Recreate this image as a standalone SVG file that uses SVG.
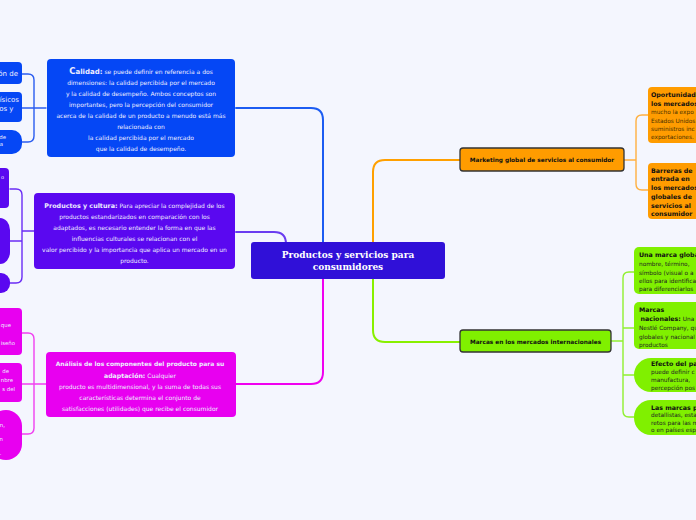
<svg xmlns="http://www.w3.org/2000/svg" width="696" height="520" viewBox="0 0 696 520">
<style>
text{font-family:"DejaVu Sans",Verdana,sans-serif;}
.s{font-size:6px;}
.w{fill:#eeeeff;}
.b{font-weight:bold;}
.c{text-anchor:middle;}
.e{text-anchor:end;}
.conn path{fill:none;stroke-linecap:round;}
.m{stroke-width:2;}
.k{stroke-width:1.4;}
.title{font-family:"DejaVu Serif",Georgia,serif;font-weight:bold;font-size:9px;fill:#fff;text-anchor:middle;}
.lbl{font-weight:bold;font-size:5.8px;fill:#111;text-anchor:middle;}
.rb{font-weight:bold;font-size:6.3px;fill:#111;}
.rs{font-size:5.8px;}
</style>
<rect width="696" height="520" fill="#f4f6fe"/>
<g class="conn" id="connectors">
<path class="m" stroke="#1c5cf2" d="M236,108 H311 Q323,108 323,120 V243"/>
<path class="m" stroke="#6a3cf0" d="M236,232 H274 Q286,232 286,244"/>
<path class="m" stroke="#f000f0" d="M323,279 V372 Q323,384 311,384 H236"/>
<path class="m" stroke="#ffa000" d="M373,242 V172 Q373,160 385,160 H460"/>
<path class="m" stroke="#88f000" d="M373,279 V330 Q373,342 385,342 H460"/>
<path class="k" stroke="#2a5cf0" d="M46,108 H22 M34,108 V80 Q34,74 28,74 H22 M34,108 V136 Q34,142 28,142 H22"/>
<path class="k" stroke="#6a2cf5" d="M34,231 H22 M22,241 H10 M22,231 V195 Q22,189 16,189 H10 M22,231 V277 Q22,283 16,283 H10"/>
<path class="k" stroke="#f040f0" d="M46,384 H22 M34,384 V339 Q34,333 28,333 H22 M34,384 V428 Q34,434 28,434 H22"/>
<path class="k" stroke="#ffb040" d="M624,160 H636 M636,160 V121 Q636,115 642,115 H648 M636,160 V184 Q636,190 642,190 H648"/>
<path class="k" stroke="#90f030" d="M610,341 H623 M623,341 V278 Q623,272 629,272 H634 M623,341 V411 Q623,417 629,417 H634 M623,328 H634 M623,375 H634"/>
</g>
<g id="central">
<rect x="251" y="242" width="194" height="37" rx="3" fill="#3010d8"/>
<text class="title" x="348" y="258">Productos y servicios para</text>
<text class="title" x="348" y="269.5">consumidores</text>
</g>
<g id="calidad">
<rect x="47" y="59" width="188" height="98" rx="4" fill="#0547f5"/>
<text class="s w c" x="141" y="74"><tspan class="b" font-size="8.5">C</tspan><tspan class="b" font-size="7">alidad:</tspan> se puede definir en referencia a dos</text>
<text class="s w c" x="141" y="84.5">dimensiones: la calidad percibida por el mercado</text>
<text class="s w c" x="141" y="96">y la calidad de desempeño. Ambos conceptos son</text>
<text class="s w c" x="141" y="107">importantes, pero la percepción del consumidor</text>
<text class="s w c" x="141" y="118">acerca de la calidad de un producto a menudo está más</text>
<text class="s w c" x="141" y="129">relacionada con</text>
<text class="s w c" x="141" y="140">la calidad percibida por el mercado</text>
<text class="s w c" x="141" y="151">que la calidad de desempeño.</text>
</g>
<g id="calidad-1"><rect x="-10" y="62" width="32" height="22" rx="4" fill="#0547f5"/><text class="w e" font-size="7" x="18" y="76">ón de</text></g>
<g id="calidad-2"><rect x="-10" y="92" width="32" height="30" rx="4" fill="#0547f5"/><text class="w e" font-size="7" x="19" y="102">ísicos</text><text class="w e" font-size="7" x="13.5" y="111">os y</text></g>
<g id="calidad-3"><rect x="-10" y="130" width="32" height="24" rx="10" fill="#0547f5"/><text class="w e" font-size="5.4" x="6" y="138.5">de</text><text class="w e" font-size="5.4" x="3" y="146">a</text></g>
<g id="cultura">
<rect x="34" y="193" width="201" height="76" rx="4" fill="#5a08f0"/>
<text class="s w c" x="134.5" y="208"><tspan class="b" font-size="6.4">Productos y cultura:</tspan> Para apreciar la complejidad de los</text>
<text class="s w c" x="134.5" y="219">productos estandarizados en comparación con los</text>
<text class="s w c" x="134.5" y="230">adaptados, es necesario entender la forma en que las</text>
<text class="s w c" x="134.5" y="241">influencias culturales se relacionan con el</text>
<text class="s w c" x="134.5" y="252">valor percibido y la importancia que aplica un mercado en un</text>
<text class="s w c" x="134.5" y="263">producto.</text>
</g>
<g id="cultura-1"><rect x="-10" y="168" width="19" height="40" rx="4" fill="#5a08f0"/><text class="w" font-size="5" x="1" y="179">o</text></g>
<g id="cultura-2"><rect x="-10" y="218" width="20" height="46" rx="12" fill="#5a08f0"/></g>
<g id="cultura-3"><rect x="-10" y="273" width="20" height="20" rx="9" fill="#5a08f0"/></g>
<g id="analisis">
<rect x="46" y="352" width="190" height="65" rx="4" fill="#e800f0"/>
<text class="w c b" font-size="6" x="140" y="365.5">Análisis de los componentes del producto para su</text>
<text class="s w c" x="140" y="377.5"><tspan class="b" font-size="6.2">adaptación:</tspan> Cualquier</text>
<text class="s w c" x="140" y="388.5">producto es multidimensional, y la suma de todas sus</text>
<text class="s w c" x="140" y="399.5">características determina el conjunto de</text>
<text class="s w c" x="140" y="410.5">satisfacciones (utilidades) que recibe el consumidor</text>
</g>
<g id="analisis-1"><rect x="-10" y="308" width="32" height="47" rx="4" fill="#e800f0"/><text class="w e" font-size="5.4" x="11" y="327">que</text><text class="w e" font-size="5.4" x="15" y="345">iseño</text></g>
<g id="analisis-2"><rect x="-10" y="363" width="32" height="39" rx="4" fill="#e800f0"/><text class="w e" font-size="5.4" x="9" y="373">de</text><text class="w e" font-size="5.4" x="13" y="382">nbre</text><text class="w e" font-size="5.4" x="15" y="390.5">s del</text></g>
<g id="analisis-3"><rect x="-10" y="410" width="32" height="50" rx="16" fill="#e800f0"/><text class="w e" font-size="5.4" x="5" y="427">n,</text><text class="w e" font-size="5.4" x="3" y="441">n</text><text class="w e" font-size="5.4" x="1.5" y="455">.</text></g>
<g id="marketing">
<rect x="460" y="148" width="164" height="23" rx="3" fill="#ff9c00" stroke="#333" stroke-width="1.3"/>
<text class="lbl" x="542" y="162">Marketing global de servicios al consumidor</text>
</g>
<g id="marketing-1"><rect x="648" y="87" width="60" height="56" rx="4" fill="#ff9c00"/>
<text class="rb" x="651" y="97">Oportunidades</text><text class="rb" x="651" y="105.5">los mercados</text>
<text class="rs" fill="#4a3000" x="651" y="114">mucho la expo</text><text class="rs" fill="#4a3000" x="651" y="122.5">Estados Unidos</text><text class="rs" fill="#4a3000" x="651" y="131">suministros inc</text><text class="rs" fill="#4a3000" x="651" y="139">exportaciones.</text></g>
<g id="marketing-2"><rect x="648" y="163" width="60" height="56" rx="4" fill="#ff9c00"/>
<text class="rb" x="651" y="172.5">Barreras de</text><text class="rb" x="651" y="181">entrada en</text><text class="rb" x="651" y="190">los mercados</text><text class="rb" x="651" y="199">globales de</text><text class="rb" x="651" y="207.5">servicios al</text><text class="rb" x="651" y="216">consumidor</text></g>
<g id="marcas">
<rect x="460" y="330" width="151" height="22" rx="3" fill="#80f000" stroke="#333" stroke-width="1.3"/>
<text class="lbl" x="535.5" y="344">Marcas en los mercados internacionales</text>
</g>
<g id="marcas-1"><rect x="634" y="247" width="70" height="47" rx="5" fill="#80f000"/>
<text class="rb" x="639" y="257" font-size="6">Una marca global</text>
<text class="rs" fill="#222" x="639" y="266">nombre, término,</text><text class="rs" fill="#222" x="639" y="274.5"> símbolo (visual o a</text><text class="rs" fill="#222" x="639" y="283">ellos para identifica</text><text class="rs" fill="#222" x="639" y="291">para diferenciarlos</text></g>
<g id="marcas-2"><rect x="634" y="302" width="70" height="47" rx="5" fill="#80f000"/>
<text class="rb" x="639" y="311.5">Marcas</text>
<text class="rs" fill="#222" x="640.5" y="321"><tspan class="b" font-size="6.3" fill="#111">nacionales:</tspan> Una e</text><text class="rs" fill="#222" x="639" y="330">Nestlé Company, qu</text><text class="rs" fill="#222" x="639" y="338.5">globales y nacional</text><text class="rs" fill="#222" x="639" y="346.5">productos</text></g>
<g id="marcas-3"><rect x="634" y="358" width="80" height="34" rx="17" fill="#80f000"/>
<text class="rb" x="651" y="365.5">Efecto del país</text>
<text class="rs" fill="#222" x="651" y="373.5">puede definir c</text><text class="rs" fill="#222" x="651" y="381.5"> manufactura, </text><text class="rs" fill="#222" x="651" y="389.5">percepción pos</text></g>
<g id="marcas-4"><rect x="634" y="400" width="80" height="35" rx="17" fill="#80f000"/>
<text class="rb" x="651" y="409.5">Las marcas p</text>
<text class="rs" fill="#222" x="651" y="417">detallistas, esta</text><text class="rs" fill="#222" x="651" y="424.5">retos para las m</text><text class="rs" fill="#222" x="651" y="432">o en países esp</text></g>
</svg>
